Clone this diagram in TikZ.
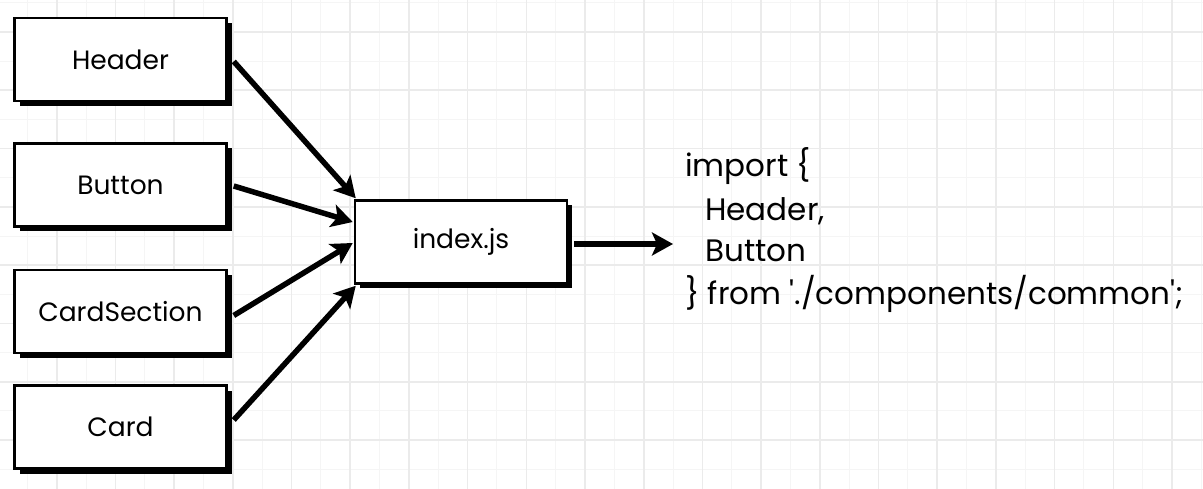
\documentclass[tikz,border=0pt]{standalone}
\usepackage{fontspec}
\setmainfont{Poppins}
\newfontfamily\codefont{Poppins}[Ligatures=TeXOff]
\usetikzlibrary{arrows.meta,calc}
\begin{document}
\begin{tikzpicture}[x=1pt,y=-1pt,
  minorline/.style={draw=black!4,line width=1pt},
  majorline/.style={draw=black!8,line width=1.6pt},
  comp/.style={draw=black,fill=white,line width=2.5pt,minimum width=212pt,minimum height=83pt,inner sep=0pt,font=\fontsize{26.5}{30}\selectfont,
    preaction={fill=black,transform canvas={xshift=5pt,yshift=-5pt}}},
  arr/.style={line width=5.5pt,-{Stealth[length=21pt,width=23pt,inset=5pt]}},
  codeline/.style={anchor=base west,inner sep=0pt,font=\codefont\fontsize{31}{36}\selectfont}]
\useasboundingbox (0,0) rectangle (1203,489);
\fill[white] (0,0) rectangle (1203,489);
\foreach \i in {0,...,20} {
  \draw[minorline] ({-2+58.7*\i+29.35},0) -- ({-2+58.7*\i+29.35},489);
}
\foreach \i in {-1,...,7} {
  \draw[minorline] (0,{32+58.3*\i+29.15}) -- (1203,{32+58.3*\i+29.15});
}
\foreach \i in {0,...,21} {
  \draw[majorline] ({-2+58.7*\i},0) -- ({-2+58.7*\i},489);
}
\foreach \i in {0,...,8} {
  \draw[majorline] (0,{32+58.3*\i}) -- (1203,{32+58.3*\i});
}
\node[comp] (hdr) at (120.5,59.5) {Header};
\node[comp] (btn) at (120.5,185) {Button};
\node[comp] (cs) at (120.5,311.5) {CardSection};
\node[comp] (card) at (120.5,427) {Card};
\node[comp] (idx) at (461,242) {index.js};
\draw[arr] ($(hdr.east)+(6,2)$) -- ($(idx.north west)+(2,-1)$);
\draw[arr] ($(btn.east)+(6,1)$) -- ($(idx.west)+(-1,-20)$);
\draw[arr] ($(cs.east)+(6,4)$) -- ($(idx.west)+(-1,1)$);
\draw[arr] ($(card.east)+(6,-7)$) -- ($(idx.south west)+(2,1)$);
\coordinate (out) at (673,244);
\draw[arr] ($(idx.east)+(6,2)$) -- (out);
\node[codeline] (l1) at (685,177) {import \{};
\node[codeline] (l2) at (705,221) {Header,};
\node[codeline] (l3) at (705,262) {Button};
\node[codeline] (l4) at (685,305) {\} from './components/common';};
\end{tikzpicture}
\end{document}
